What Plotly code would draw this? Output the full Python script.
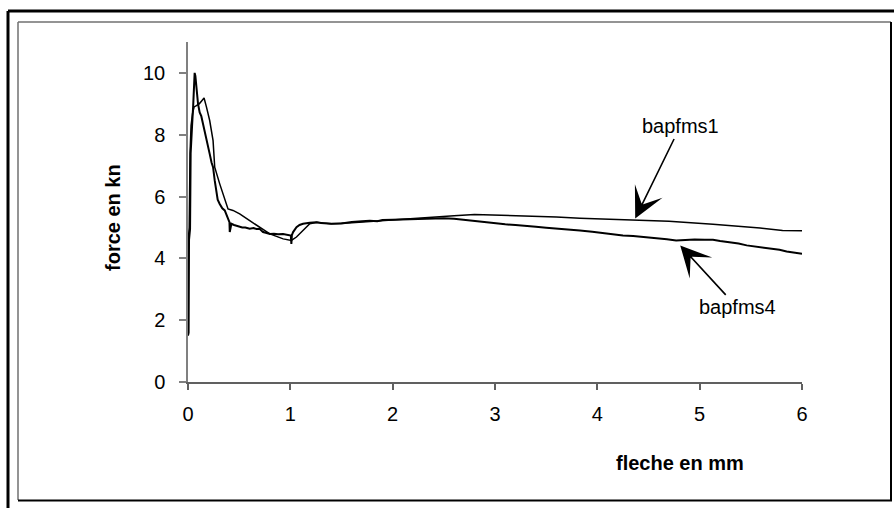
import plotly.graph_objects as go

# ---------------- data ----------------
x_bapfms1 = [0, 0.005, 0.012, 0.02, 0.03, 0.045, 0.06, 0.082, 0.11, 0.135, 0.157, 0.18, 0.212, 0.245,
             0.261, 0.31, 0.36, 0.391, 0.44, 0.505, 0.603, 0.70, 0.80, 0.93, 1.01, 1.06, 1.12, 1.19,
             1.26, 1.4, 1.6, 1.8, 2.0, 2.2, 2.4, 2.6, 2.8, 3.0, 3.3, 3.6, 3.83, 4.1, 4.37, 4.7, 5.13,
             5.4, 5.59, 5.81, 6.0]
y_bapfms1 = [4.5, 4.7, 5.0, 7.4, 8.3, 8.7, 8.9, 8.94, 9.0, 9.1, 9.19, 8.9, 8.46, 7.81,
             6.95, 6.41, 5.9, 5.60, 5.55, 5.44, 5.22, 5.01, 4.79, 4.63, 4.58, 4.69, 4.90, 5.12,
             5.17, 5.12, 5.15, 5.2, 5.25, 5.28, 5.33, 5.38, 5.42, 5.40, 5.38, 5.34, 5.30, 5.27, 5.25, 5.2, 5.10,
             5.04, 4.98, 4.90, 4.89]

x_bapfms4 = [0, 0.006, 0.01, 0.014, 0.02, 0.026, 0.032, 0.04, 0.05, 0.058, 0.065, 0.072, 0.08, 0.098,
             0.114, 0.13, 0.147, 0.165, 0.18, 0.196, 0.212, 0.23, 0.245, 0.261, 0.277, 0.29, 0.31, 0.335,
             0.359, 0.385, 0.405, 0.408, 0.415, 0.424, 0.45, 0.473, 0.5, 0.53, 0.56, 0.603, 0.64, 0.67,
             0.70, 0.72, 0.733, 0.76, 0.80, 0.84, 0.88, 0.929, 0.96, 0.99, 1.005, 1.01, 1.015, 1.027,
             1.06, 1.09, 1.124, 1.19, 1.255, 1.3, 1.4, 1.5, 1.6, 1.7, 1.776, 1.85, 1.9, 2.0, 2.1, 2.2,
             2.3, 2.4, 2.5, 2.6, 2.7, 2.8, 2.9, 3.0, 3.1, 3.2, 3.3, 3.4, 3.5, 3.6, 3.7, 3.83, 3.95,
             4.05, 4.15, 4.25, 4.35, 4.45, 4.58, 4.68, 4.77, 4.85, 4.95, 5.05, 5.13, 5.2, 5.3, 5.38,
             5.46, 5.55, 5.62, 5.7, 5.78, 5.85, 5.92, 6.0]
y_bapfms4 = [1.5, 1.6, 4.6, 4.8, 4.95, 7.4, 8.0, 8.3, 8.9, 9.8, 10.0, 9.9, 9.6, 9.0,
             8.72, 8.6, 8.35, 8.05, 7.81, 7.6, 7.38, 7.1, 6.95, 6.52, 6.09, 5.9, 5.76, 5.62,
             5.55, 5.35, 5.17, 4.85, 5.05, 5.12, 5.08, 5.06, 5.04, 5.0, 5.0, 4.96, 4.98, 4.95,
             4.96, 4.9, 4.85, 4.83, 4.79, 4.8, 4.78, 4.79, 4.77, 4.76, 4.74, 4.47, 4.75, 4.85,
             5.01, 5.08, 5.12, 5.15, 5.17, 5.14, 5.12, 5.13, 5.18, 5.2, 5.22, 5.2, 5.24, 5.25, 5.26, 5.28,
             5.27, 5.29, 5.3, 5.28, 5.24, 5.2, 5.16, 5.13, 5.1, 5.08, 5.04, 5.02, 4.99, 4.97, 4.95, 4.9, 4.86,
             4.82, 4.77, 4.74, 4.72, 4.69, 4.67, 4.62, 4.58, 4.6, 4.61, 4.6, 4.6, 4.56, 4.52, 4.48,
             4.42, 4.38, 4.34, 4.3, 4.28, 4.22, 4.19, 4.15]

assert len(x_bapfms1) == len(y_bapfms1), (len(x_bapfms1), len(y_bapfms1))
assert len(x_bapfms4) == len(y_bapfms4), (len(x_bapfms4), len(y_bapfms4))

x_ticks = [0, 1, 2, 3, 4, 5, 6]
y_ticks = [0, 2, 4, 6, 8, 10]
x_title = "fleche en mm"
y_title = "force en kn"
labels = ["bapfms1", "bapfms4"]

# ---------------- figure ----------------
FONT = "Liberation Sans, Arial, sans-serif"
W, H = 894, 508
L, R, T, B = 188, 92, 42, 126
PW, PH = W - L - R, H - T - B


def px(xp):
    return (xp - L) / PW


def py(yp):
    return (H - B - yp) / PH


fig = go.Figure()
fig.add_trace(go.Scatter(x=x_bapfms1, y=y_bapfms1, mode="lines", name=labels[0],
                         line=dict(color="black", width=1.5)))
fig.add_trace(go.Scatter(x=x_bapfms4, y=y_bapfms4, mode="lines", name=labels[1],
                         line=dict(color="black", width=2)))

shapes = [
    # outer frame (top and left)
    dict(type="line", xref="paper", yref="paper", x0=px(8), x1=px(900), y0=py(11), y1=py(11),
         line=dict(color="black", width=3)),
    dict(type="line", xref="paper", yref="paper", x0=px(8), x1=px(8), y0=py(11), y1=py(515),
         line=dict(color="black", width=3)),
    # inner frame
    dict(type="line", xref="paper", yref="paper", x0=px(18), x1=px(891), y0=py(22), y1=py(22),
         line=dict(color="#707070", width=1.5)),
    dict(type="line", xref="paper", yref="paper", x0=px(18), x1=px(18), y0=py(22), y1=py(500),
         line=dict(color="#707070", width=1.5)),
    dict(type="line", xref="paper", yref="paper", x0=px(891), x1=px(891), y0=py(22), y1=py(501),
         line=dict(color="black", width=2)),
    dict(type="line", xref="paper", yref="paper", x0=px(18), x1=px(892), y0=py(500.5), y1=py(500.5),
         line=dict(color="black", width=2)),
]

annotations = [
    dict(text=labels[0], x=4.37, y=5.29, xref="x", yref="y", ax=45, ay=-92,
         showarrow=True, arrowhead=3, arrowsize=3.2, arrowwidth=1.6, arrowcolor="black",
         font=dict(family=FONT, size=20, color="black")),
    dict(text=labels[1], x=4.81, y=4.42, xref="x", yref="y", ax=57, ay=62,
         showarrow=True, arrowhead=3, arrowsize=3.2, arrowwidth=1.6, arrowcolor="black",
         font=dict(family=FONT, size=20, color="black")),
    dict(text=x_title, x=px(680), y=py(463), xref="paper", yref="paper", showarrow=False,
         xanchor="center", yanchor="middle",
         font=dict(family=FONT, size=20, color="black", weight="bold")),
    dict(text=y_title, x=px(113), y=py(218), xref="paper", yref="paper", showarrow=False,
         xanchor="center", yanchor="middle",
         textangle=-90, font=dict(family=FONT, size=20, color="black", weight="bold")),
]

fig.update_layout(
    width=W, height=H,
    margin=dict(l=L, r=R, t=T, b=B, pad=0),
    paper_bgcolor="white", plot_bgcolor="white",
    showlegend=False,
    font=dict(family=FONT, size=20, color="black"),
    shapes=shapes,
    annotations=annotations,
    xaxis=dict(range=[0, 6], tickvals=x_ticks, ticktext=[str(v) for v in x_ticks],
               showgrid=False, zeroline=False, showline=True, linecolor="#606060", linewidth=1.5,
               ticks="outside", ticklen=6, tickcolor="#606060", tickwidth=1.5,
               ticklabelstandoff=7),
    yaxis=dict(range=[0, 11], tickvals=y_ticks, ticktext=[str(v) for v in y_ticks],
               showgrid=False, zeroline=False, showline=True, linecolor="#808080", linewidth=1.5,
               ticks="outside", ticklen=7, tickcolor="#808080", tickwidth=1.5,
               ticklabelstandoff=10),
)

fig.write_html("out.html", config={"displayModeBar": False},
               post_script="document.body.style.margin='0';document.body.style.padding='0';")
